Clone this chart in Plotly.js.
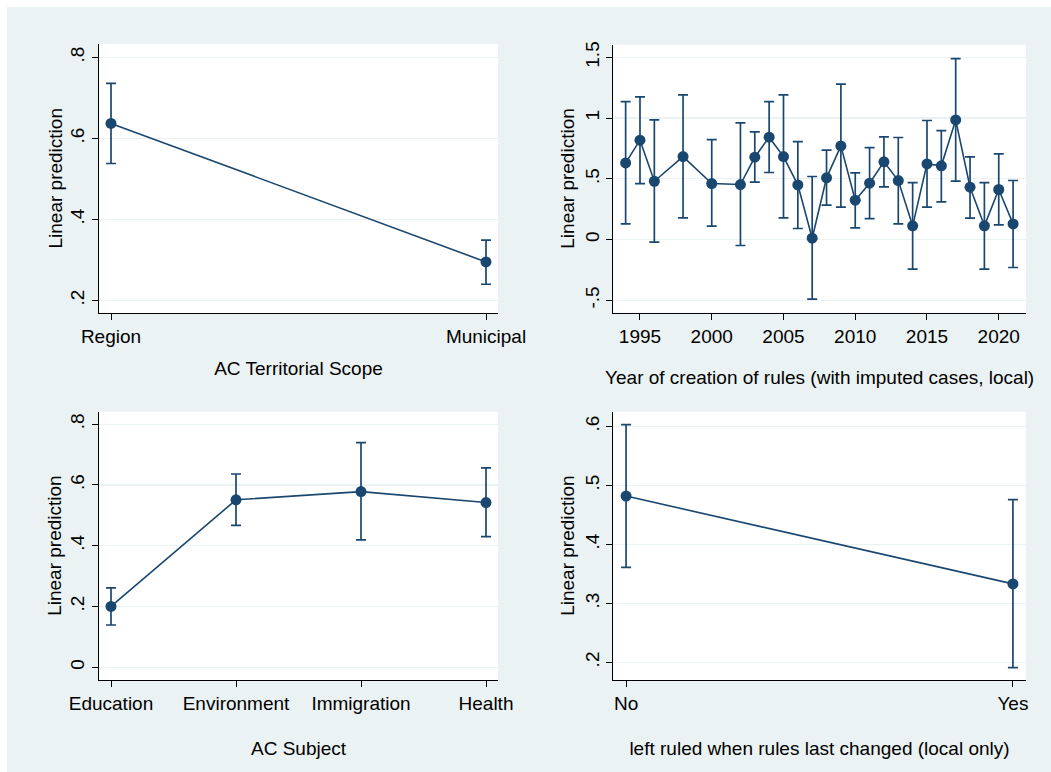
<!DOCTYPE html>
<html>
<head>
<meta charset="utf-8">
<script src="https://cdn.plot.ly/plotly-3.0.1.min.js"></script>
<style>html,body{margin:0;padding:0;background:#fff;}#chart{width:1051px;height:772px;}</style>
</head>
<body>
<div id="chart"></div>
<script>
// Panel 1: AC Territorial Scope
const scopeCats = ['Region', 'Municipal'];
const scopePred = [0.637, 0.295];
const scopeLo = [0.538, 0.240];
const scopeHi = [0.736, 0.349];

// Panel 2: Year of creation of rules
const years = [1994, 1995, 1996, 1998, 2000, 2002, 2003, 2004, 2005, 2006, 2007, 2008, 2009,
               2010, 2011, 2012, 2013, 2014, 2015, 2016, 2017, 2018, 2019, 2020, 2021];
const yearPred = [0.631, 0.818, 0.480, 0.683, 0.461, 0.453, 0.678, 0.843, 0.683, 0.450, 0.011, 0.508, 0.771,
                  0.324, 0.464, 0.640, 0.486, 0.113, 0.623, 0.607, 0.985, 0.431, 0.113, 0.412, 0.129];
const yearLo = [0.129, 0.461, -0.021, 0.179, 0.110, -0.049, 0.472, 0.552, 0.179, 0.091, -0.491, 0.283, 0.267,
                0.096, 0.173, 0.434, 0.129, -0.244, 0.267, 0.310, 0.481, 0.176, -0.244, 0.121, -0.230];
const yearHi = [1.136, 1.174, 0.985, 1.191, 0.823, 0.960, 0.886, 1.136, 1.191, 0.807, 0.519, 0.736, 1.279,
                0.549, 0.757, 0.845, 0.840, 0.469, 0.980, 0.897, 1.490, 0.681, 0.469, 0.705, 0.486];

// Panel 3: AC Subject
const subjectCats = ['Education', 'Environment', 'Immigration', 'Health'];
const subjectPred = [0.200, 0.551, 0.578, 0.542];
const subjectLo = [0.139, 0.467, 0.419, 0.430];
const subjectHi = [0.261, 0.636, 0.739, 0.656];

// Panel 4: left ruled when rules last changed
const leftCats = ['No', 'Yes'];
const leftPred = [0.482, 0.333];
const leftLo = [0.361, 0.191];
const leftHi = [0.603, 0.476];

// Tick labels
const y1Vals = [0.2, 0.4, 0.6, 0.8];
const y1Text = ['.2', '.4', '.6', '.8'];
const y2Vals = [-0.5, 0, 0.5, 1, 1.5];
const y2Text = ['-.5', '0', '.5', '1', '1.5'];
const y3Vals = [0, 0.2, 0.4, 0.6, 0.8];
const y3Text = ['0', '.2', '.4', '.6', '.8'];
const y4Vals = [0.2, 0.3, 0.4, 0.5, 0.6];
const y4Text = ['.2', '.3', '.4', '.5', '.6'];
const x2Vals = [1995, 2000, 2005, 2010, 2015, 2020];
const yTitle = 'Linear prediction';

const NAVY = '#1a476f';
const FONT = 'Liberation Sans, Arial, sans-serif';
const FS = 19;

function diff(a, b) { return a.map((v, i) => v - b[i]); }

function trace(x, y, lo, hi, xa, ya) {
  return {
    type: 'scatter', mode: 'lines+markers', x: x, y: y,
    xaxis: xa, yaxis: ya,
    line: {color: NAVY, width: 1.6},
    marker: {color: NAVY, size: 11},
    error_y: {type: 'data', symmetric: false, array: diff(hi, y), arrayminus: diff(y, lo),
              color: NAVY, thickness: 1.7, width: 5},
    hoverinfo: 'skip', showlegend: false, cliponaxis: false
  };
}

const W = 1051, H = 772;
function dx(a, b) { return [a / W, b / W]; }
function dy(top, bottom) { return [(H - bottom) / H, (H - top) / H]; }

function yax(dom, anchor, vals, text, range) {
  return {
    domain: dom, anchor: anchor, range: range,
    tickmode: 'array', tickvals: vals, ticktext: text, tickangle: -90,
    ticks: 'outside', ticklen: 6, tickcolor: '#000', tickwidth: 1,
    showline: true, linecolor: '#000', linewidth: 1.2,
    showgrid: true, gridcolor: '#eaf2f3', gridwidth: 1.3,
    zeroline: false, automargin: false,
    tickfont: {family: FONT, size: FS, color: '#000'}
  };
}
function xax(dom, anchor, title, extra, standoff) {
  return Object.assign({
    domain: dom, anchor: anchor,
    ticks: 'outside', ticklen: 6, tickcolor: '#000', tickwidth: 1,
    showline: true, linecolor: '#000', linewidth: 1.2,
    showgrid: false, zeroline: false, automargin: false,
    tickfont: {family: FONT, size: FS, color: '#000'},
    title: {text: title, font: {family: FONT, size: FS, color: '#000'}, standoff: standoff}
  }, extra);
}
function ytitle(xpx, topPx, bottomPx) {
  return {
    xref: 'paper', yref: 'paper', x: xpx / W, y: (H - (topPx + bottomPx) / 2) / H,
    xanchor: 'center', yanchor: 'middle', textangle: -90, showarrow: false,
    text: yTitle, font: {family: FONT, size: FS, color: '#000'}
  };
}

const data = [
  trace(scopeCats, scopePred, scopeLo, scopeHi, 'x', 'y'),
  trace(years, yearPred, yearLo, yearHi, 'x2', 'y2'),
  trace(subjectCats, subjectPred, subjectLo, subjectHi, 'x3', 'y3'),
  trace(leftCats, leftPred, leftLo, leftHi, 'x4', 'y4')
];

const layout = {
  width: W, height: H,
  margin: {l: 0, r: 0, t: 0, b: 0},
  paper_bgcolor: '#eaf2f3', plot_bgcolor: '#ffffff',
  showlegend: false,
  font: {family: FONT, size: FS, color: '#000'},
  xaxis: xax(dx(99, 498), 'y', 'AC Territorial Scope', {type: 'category', range: [-0.032, 1.032]}, 15),
  yaxis: yax(dy(44, 313), 'x', y1Vals, y1Text, [0.169, 0.833]),
  xaxis2: xax(dx(613.3, 1026), 'y2', 'Year of creation of rules (with imputed cases, local)',
              {type: 'linear', range: [1993.14, 2021.9], tickmode: 'array', tickvals: x2Vals}, 25),
  yaxis2: yax(dy(44.7, 312.7), 'x2', y2Vals, y2Text, [-0.602, 1.604]),
  xaxis3: xax(dx(99, 498), 'y3', 'AC Subject', {type: 'category', range: [-0.096, 3.096]}, 28),
  yaxis3: yax(dy(411.7, 680), 'x3', y3Vals, y3Text, [-0.042, 0.841]),
  xaxis4: xax(dx(613.3, 1025.7), 'y4', 'left ruled when rules last changed (local only)',
              {type: 'category', range: [-0.033, 1.033]}, 28),
  yaxis4: yax(dy(411.7, 680), 'x4', y4Vals, y4Text, [0.170, 0.625]),
  annotations: [
    ytitle(55, 44, 313), ytitle(568, 44.7, 312.7),
    ytitle(55, 411.7, 680), ytitle(568, 411.7, 680)
  ],
  shapes: [
    {type: 'rect', xref: 'paper', yref: 'paper', x0: 0, x1: 7 / W, y0: 0, y1: 1,
     fillcolor: '#ffffff', line: {width: 0}, layer: 'below'},
    {type: 'rect', xref: 'paper', yref: 'paper', x0: 0, x1: 1, y0: 1 - 7 / H, y1: 1,
     fillcolor: '#ffffff', line: {width: 0}, layer: 'below'}
  ]
};

Plotly.newPlot('chart', data, layout, {displayModeBar: false, staticPlot: true});
</script>
</body>
</html>
